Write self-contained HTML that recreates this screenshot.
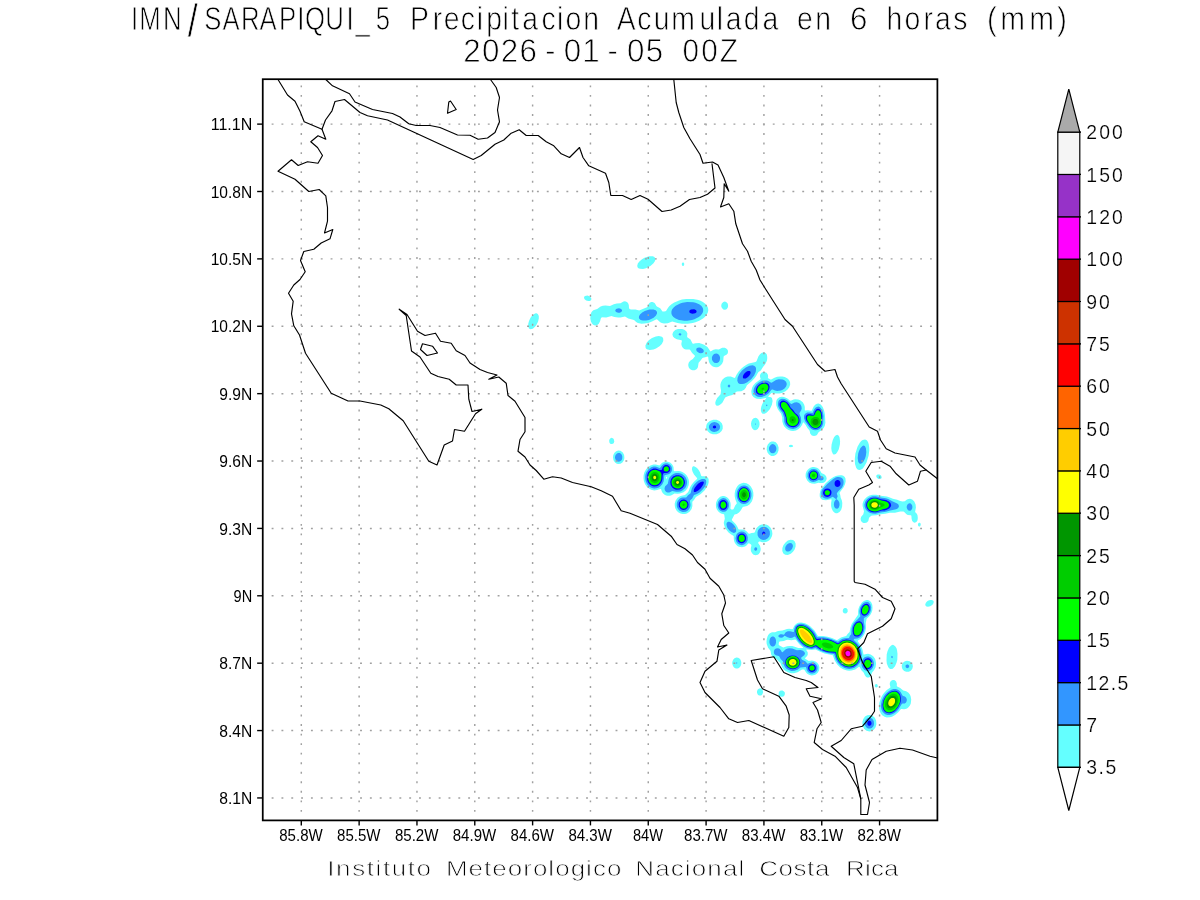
<!DOCTYPE html>
<html lang="es"><head><meta charset="utf-8"><title>IMN/SARAPIQUI_5 Precipitacion Acumulada en 6 horas (mm)</title>
<style>html,body{margin:0;padding:0;background:#fff}body{width:1200px;height:900px;overflow:hidden}svg{display:block}text{white-space:pre}</style></head>
<body>
<svg width="1200" height="900" viewBox="0 0 1200 900" font-family="'Liberation Sans', sans-serif" fill="#000">
<rect width="1200" height="900" fill="#fff"/>
<g id="precip" stroke="none" fill-rule="evenodd">
<path fill="#64ffff" d="M649.1,256.2 652.8,256.2 654.4,256.9 655.4,258.4 655.4,259.2 655.0,261.0 653.5,263.3 650.4,265.9 646.0,268.2 643.0,268.9 640.0,268.8 638.4,268.2 637.8,267.7 637.2,265.9 637.8,263.6 639.4,261.4 642.0,259.2 644.5,257.7ZM682.1,262.9 682.8,262.4 683.5,262.5 684.2,263.6 684.2,264.7 683.5,265.9 682.8,266.0 681.9,265.2 681.8,263.7ZM585.0,295.9 587.5,295.6 588.8,295.9 590.1,296.7 591.3,298.2 591.3,299.7 590.7,300.4 589.8,300.9 588.2,301.1 586.2,300.4 585.2,299.8 584.4,298.9 584.0,297.4 584.2,296.7ZM686.2,298.9 693.2,299.0 697.3,299.7 700.0,300.5 702.9,301.9 705.2,303.7 707.0,305.7 708.0,307.9 708.3,310.2 707.8,312.4 706.7,314.7 704.8,316.9 703.0,318.5 699.2,320.7 695.5,322.2 692.7,322.9 687.8,323.7 682.0,323.7 677.5,323.0 672.2,321.4 667.8,323.2 664.0,323.4 661.8,322.9 660.2,322.2 657.2,319.4 656.5,319.3 652.0,321.6 648.2,322.9 644.5,323.6 641.5,323.7 637.8,322.9 636.2,322.1 634.0,320.1 628.3,318.4 625.0,316.5 620.5,317.5 618.2,317.6 614.3,316.9 611.5,316.0 606.2,317.4 601.8,317.2 600.8,318.4 600.2,321.0 598.8,323.8 597.0,325.2 595.8,325.5 594.2,325.3 592.9,324.4 592.0,323.5 590.9,321.4 590.3,318.4 590.5,315.0 591.2,312.8 592.0,311.5 593.3,310.2 597.2,308.9 600.6,306.4 602.8,305.7 605.5,305.5 610.0,306.0 613.8,304.2 616.8,303.5 620.5,303.3 623.5,301.4 625.0,301.2 626.9,301.9 628.0,303.1 628.8,304.9 629.0,307.9 629.5,309.0 631.0,309.6 635.5,309.6 639.2,310.6 647.0,307.2 647.7,306.4 648.5,304.2 649.7,302.7 651.2,302.0 652.5,301.9 654.2,302.7 655.0,303.4 656.2,305.7 656.9,306.4 660.2,308.3 662.5,311.5 664.0,311.6 665.5,311.3 666.2,310.8 667.9,307.9 669.2,306.2 671.5,304.2 673.8,302.7 679.0,300.4 682.0,299.6ZM723.3,301.9 724.8,301.6 726.1,301.9 727.0,302.7 727.8,303.8 728.1,305.7 727.9,307.2 727.0,308.7 726.1,309.4 724.8,309.8 723.3,309.4 721.8,307.8 721.3,306.4 721.3,305.0 721.8,303.4ZM534.1,313.9 535.8,313.3 536.5,313.3 537.8,313.9 538.8,316.1 538.8,318.6 538.0,321.7 536.5,324.8 535.0,326.8 532.8,328.7 530.5,329.3 529.0,328.4 528.3,326.7 528.2,324.0 529.0,320.9 530.5,317.8 532.0,315.8ZM677.9,328.9 682.1,328.9 684.3,329.7 686.3,331.2 687.4,333.4 687.1,336.4 687.3,337.2 690.5,339.4 692.5,343.4 693.2,343.7 695.5,343.2 699.2,343.1 702.2,343.9 704.1,344.7 707.5,347.1 710.5,351.5 713.5,349.8 715.8,349.3 718.8,349.4 722.2,347.7 724.8,347.8 726.2,348.4 727.1,349.2 727.8,350.2 728.0,351.4 727.8,353.2 726.8,354.4 724.0,356.1 723.6,356.7 723.2,361.2 722.2,363.4 721.0,365.1 718.8,366.7 717.2,367.2 715.8,367.3 714.2,367.1 712.8,366.5 710.9,364.9 709.8,363.5 709.0,361.9 708.5,359.7 708.2,357.1 707.5,356.5 705.2,357.3 703.0,357.7 702.2,358.2 700.8,360.3 698.6,362.7 697.9,367.2 697.0,368.7 696.1,369.4 694.5,370.2 692.5,370.3 691.0,369.8 689.7,368.7 688.8,367.4 688.3,365.7 688.3,364.2 688.8,362.6 690.2,360.8 692.8,358.9 694.6,356.7 695.0,355.9 694.5,355.2 692.1,353.0 690.2,350.0 689.5,349.4 685.8,349.6 684.2,349.1 682.8,347.8 682.0,346.6 681.4,344.7 681.4,343.2 681.9,341.0 681.6,340.2 676.8,339.3 674.5,338.1 673.0,336.4 672.4,334.2 673.2,331.9 675.2,330.0ZM655.8,336.4 658.8,336.1 661.0,336.4 661.8,336.8 662.5,337.3 663.2,338.4 663.3,340.9 661.8,344.0 659.5,346.2 656.0,348.4 653.5,349.4 649.8,349.9 646.9,349.2 646.0,348.4 645.6,347.7 645.4,345.4 646.8,342.4 648.8,340.2 652.0,337.9ZM761.5,352.9 763.0,352.4 764.5,352.4 765.6,352.9 766.3,353.7 766.8,354.5 767.2,356.7 767.2,358.9 766.8,360.9 765.2,364.2 763.0,366.9 760.8,370.5 758.5,372.1 757.8,373.0 756.0,376.2 754.3,378.4 751.4,381.4 746.9,385.2 745.8,387.8 744.2,389.7 741.3,391.2 736.8,391.6 732.3,394.9 728.5,396.0 725.5,397.3 724.9,397.9 722.5,402.4 721.0,404.0 718.8,405.4 717.2,405.7 716.3,405.4 715.8,404.9 715.4,403.9 715.3,402.4 715.8,400.7 717.2,397.9 720.6,394.2 721.0,390.4 720.4,386.7 720.4,384.4 721.0,382.2 722.5,379.6 724.6,377.7 726.0,376.9 727.8,376.4 730.8,376.6 734.5,378.1 735.2,377.4 736.5,374.7 738.5,371.7 741.2,368.7 743.5,366.7 746.5,364.7 748.8,363.6 755.5,361.9 756.5,361.2 758.5,356.2 760.0,354.2ZM761.9,372.4 763.0,372.0 764.5,371.9 766.0,372.4 766.8,373.0 767.9,374.7 768.1,376.2 767.9,377.7 768.2,378.3 770.5,379.4 771.2,379.4 774.5,377.7 777.2,376.8 780.2,376.4 782.5,376.5 784.8,377.0 787.5,378.4 789.0,379.9 790.0,382.1 790.2,384.4 789.2,387.2 787.8,389.3 785.5,391.2 782.5,392.7 779.5,393.5 775.8,393.5 772.0,392.8 771.2,393.2 768.1,396.5 768.2,396.7 771.1,397.2 772.0,398.2 772.6,400.9 771.9,404.7 769.8,409.2 767.5,411.8 766.0,413.0 764.5,413.7 763.0,413.7 762.2,413.4 761.5,412.5 760.9,410.7 760.9,408.4 761.5,405.9 763.0,402.4 766.4,397.9 765.2,397.9 760.8,399.0 757.0,398.8 755.5,398.2 753.8,397.2 752.4,395.7 751.7,394.2 751.3,391.2 752.2,387.4 753.4,385.2 755.4,382.9 760.5,379.2 760.6,378.4 760.0,376.9 760.0,375.1 760.8,373.5ZM779.4,397.2 781.8,396.7 784.0,397.0 787.0,398.3 790.0,400.6 790.8,400.7 793.7,399.4 795.2,399.2 798.2,399.4 800.2,400.2 802.8,402.3 804.2,404.7 804.8,406.9 804.8,409.9 805.0,410.4 808.0,410.3 811.0,410.8 811.8,410.4 813.8,406.2 815.5,404.4 817.0,403.7 818.5,403.6 820.8,404.6 822.7,406.9 824.2,410.7 824.9,414.4 825.4,422.7 824.8,425.7 823.6,427.9 821.6,430.2 819.2,431.7 818.4,432.4 817.1,434.7 816.2,435.5 814.0,436.1 811.8,435.4 810.2,433.6 809.7,430.9 809.3,430.2 807.4,427.9 805.7,424.9 803.5,422.2 802.8,423.1 802.0,424.9 800.5,427.3 798.2,429.2 796.0,430.4 793.0,430.9 790.8,430.7 788.5,430.0 786.2,428.6 784.3,426.4 783.1,424.2 782.3,421.2 782.3,417.4 781.1,413.7 777.8,409.2 776.3,405.4 776.1,402.5 776.5,400.2 777.4,398.7ZM753.7,418.2 755.5,417.8 757.0,418.2 758.5,419.8 759.4,421.9 759.6,424.2 759.2,426.5 757.8,429.1 756.2,430.1 754.8,430.2 753.2,429.5 752.0,427.9 751.2,425.7 751.0,423.4 751.5,421.2 752.5,419.3ZM713.2,419.7 716.5,419.8 719.5,421.1 721.8,423.3 722.7,425.7 722.7,428.7 721.6,430.9 719.5,432.9 716.5,434.2 712.8,434.2 709.9,433.2 707.5,431.1 706.4,428.7 706.1,427.2 706.3,425.7 706.7,424.2 707.5,423.0 709.8,420.9ZM835.6,435.4 837.2,434.8 838.8,435.7 839.5,437.2 840.1,441.4 839.9,444.4 838.8,449.2 837.2,452.3 835.8,454.0 834.2,454.6 833.5,454.4 832.8,453.8 831.7,451.2 831.3,448.2 831.6,444.4 832.8,439.9 834.2,436.9ZM610.2,438.4 611.5,437.8 612.2,437.9 613.2,438.4 613.8,439.2 614.3,441.4 613.8,442.9 613.0,443.7 611.5,444.1 610.8,443.9 610.0,443.4 609.3,442.2 609.2,439.9ZM862.7,439.9 865.0,439.4 866.4,439.9 867.2,440.8 868.1,442.2 868.8,444.4 869.2,447.4 869.3,450.5 868.6,455.7 866.5,462.4 864.2,466.6 862.8,468.4 861.2,469.5 859.8,470.0 858.2,469.8 857.3,469.2 856.2,467.7 855.0,463.9 854.8,458.7 855.4,453.5 857.5,446.8 859.8,442.8 861.2,441.1ZM771.5,441.5 773.5,441.4 775.8,442.3 777.6,444.4 778.6,447.4 778.5,450.4 777.3,453.4 775.8,455.1 773.5,456.0 771.2,455.9 769.0,454.5 767.5,452.4 766.7,449.7 766.9,446.7 767.8,444.4 769.8,442.2ZM789.3,445.2 790.8,444.8 792.2,445.0 793.2,445.9 792.8,446.7 790.8,447.2 789.2,446.7 788.8,445.9ZM616.2,451.2 618.2,450.5 620.5,450.8 622.8,452.5 624.1,455.0 624.4,458.0 623.9,460.2 622.4,462.4 620.5,463.8 618.2,464.1 616.8,463.7 615.0,462.4 613.5,460.2 613.0,457.2 613.3,454.9 614.5,452.7ZM664.9,461.7 667.0,461.6 668.5,461.9 670.0,462.5 671.8,464.0 672.8,465.4 673.5,466.9 673.8,471.1 674.5,471.3 678.2,471.0 680.5,471.3 682.8,472.2 685.0,473.7 686.5,475.2 687.9,477.4 688.7,479.7 689.0,481.9 688.7,484.9 687.6,487.9 686.0,490.2 683.5,492.2 679.8,493.6 677.5,493.8 674.5,493.6 671.5,495.2 670.0,495.7 667.8,495.8 666.1,495.4 664.6,494.7 662.9,493.2 661.9,491.7 661.0,489.1 660.2,488.9 657.2,490.1 654.2,490.4 651.2,489.8 648.2,488.1 646.6,486.4 645.1,484.2 643.9,481.2 643.5,478.2 643.6,475.2 644.4,472.2 646.1,469.2 648.2,466.9 650.5,465.5 653.5,464.6 655.8,464.6 659.5,465.4 661.8,463.1 663.2,462.2ZM667.0,476.7 666.2,476.9 666.1,477.4 666.2,479.3 667.2,477.4ZM692.3,466.9 693.2,466.3 694.0,466.3 695.5,466.9 697.0,468.1 698.5,469.8 700.0,472.2 701.3,475.9 702.2,476.3 705.2,476.2 707.5,477.2 708.6,478.9 708.7,481.9 708.2,484.2 707.2,486.4 704.7,490.2 700.8,494.0 695.9,496.9 694.0,499.9 692.5,501.4 692.3,502.2 692.4,505.9 691.6,508.9 689.5,511.8 686.9,513.5 685.0,514.0 682.8,514.1 680.5,513.5 678.2,512.2 676.5,510.4 675.3,508.2 674.8,506.0 674.7,503.7 675.5,500.7 677.6,497.7 680.5,495.9 685.0,495.1 688.0,492.2 688.7,490.9 690.1,487.2 691.4,485.0 693.8,482.0 697.0,478.9 697.2,478.2 694.0,474.5 692.5,471.6 691.9,469.2ZM810.3,467.7 812.5,467.0 814.0,467.0 817.0,467.8 818.5,468.7 819.7,469.9 821.5,473.0 824.5,474.4 826.0,475.9 826.7,478.2 826.4,479.7 825.6,481.2 824.5,482.2 823.0,482.9 821.5,483.1 820.0,483.0 818.5,482.7 814.8,483.7 811.8,483.6 809.5,482.7 807.2,480.4 805.8,477.5 805.6,475.9 805.7,473.7 806.5,471.4 807.5,469.9 808.8,468.7ZM877.5,474.4 879.4,474.4 880.7,475.2 881.3,476.0 881.7,477.4 881.5,478.2 880.8,478.8 878.6,478.9 877.0,477.9 876.3,476.7 876.3,475.9 876.5,475.2ZM835.8,475.9 838.0,475.4 840.2,475.2 841.8,475.3 843.2,475.8 844.5,476.7 845.4,478.2 845.7,481.2 845.0,484.2 843.6,487.2 839.7,492.4 839.6,493.2 840.2,494.7 840.7,497.7 841.8,500.2 842.3,502.9 842.1,506.7 841.2,509.7 839.5,512.1 837.2,513.3 835.8,513.2 834.7,512.7 833.5,511.8 832.6,510.5 831.6,508.2 831.1,505.9 831.1,502.9 831.6,500.0 831.3,499.2 826.0,500.2 823.8,500.1 822.2,499.7 820.8,498.5 820.2,497.7 819.7,496.2 819.7,493.9 820.3,491.0 820.9,489.4 825.4,483.4 829.8,479.6 833.5,477.0ZM741.0,483.4 743.5,482.8 746.5,483.2 748.8,484.4 750.8,486.5 752.5,489.4 753.3,492.4 753.4,495.4 752.9,498.4 751.8,501.4 749.5,504.4 747.1,505.9 743.5,506.7 742.8,507.1 740.5,510.8 739.0,512.5 736.8,514.0 734.5,514.5 731.9,519.5 731.9,520.2 735.6,524.0 737.1,526.2 738.5,529.2 739.0,529.6 742.0,529.4 744.2,529.8 746.5,531.2 748.8,533.7 749.5,533.8 751.5,533.0 754.0,532.7 754.8,532.2 756.2,528.6 757.8,526.7 760.0,525.1 763.0,524.2 766.0,524.5 768.3,525.5 770.6,527.7 772.0,530.7 772.4,533.7 772.0,536.0 770.5,539.0 769.0,540.5 766.8,541.8 764.5,542.3 762.2,542.3 760.0,541.6 759.2,541.6 758.5,542.0 758.2,542.7 758.4,543.5 760.0,545.8 760.7,548.7 760.6,550.2 760.0,552.2 758.8,554.0 757.8,554.7 755.5,555.3 753.6,554.7 752.5,553.8 751.2,551.7 750.8,550.2 750.8,548.0 751.4,545.7 751.3,545.0 751.0,544.4 749.5,543.5 748.8,543.3 748.0,543.8 746.5,545.4 745.0,546.4 742.0,547.2 739.0,546.7 737.5,545.9 736.0,544.5 734.8,542.7 734.2,541.2 733.8,539.0 733.7,536.0 730.8,534.2 728.3,532.2 726.0,529.2 724.5,526.2 723.9,524.0 723.8,522.5 724.8,518.7 724.3,515.0 724.0,514.2 721.0,513.5 718.8,512.1 717.0,509.7 716.1,507.5 715.9,505.2 716.0,502.9 716.8,500.7 717.6,499.2 718.8,497.9 720.2,496.8 722.5,496.1 724.0,496.1 725.5,496.5 727.0,497.2 729.0,499.2 729.8,500.7 730.5,502.9 730.7,505.2 730.4,508.2 730.7,508.9 731.5,509.5 733.0,509.6 733.6,508.9 735.2,505.5 736.6,503.7 736.8,502.9 735.3,499.2 734.7,496.2 734.7,493.2 735.3,490.2 736.3,488.0 737.5,486.1 739.0,484.6ZM872.5,494.7 876.2,494.7 880.8,495.8 886.8,496.5 889.8,497.4 892.8,498.8 897.2,499.8 900.2,500.9 902.5,501.4 904.8,501.2 907.0,499.4 908.5,498.9 910.0,498.7 912.2,499.5 914.3,501.4 915.6,504.5 915.9,507.4 915.1,511.9 916.8,513.8 917.5,515.3 917.8,518.0 917.5,520.2 916.8,521.6 916.0,522.3 914.5,522.8 913.8,522.6 912.2,520.9 911.6,518.7 911.4,515.7 910.8,515.3 907.8,515.0 906.5,514.2 904.0,511.8 903.2,511.5 900.2,511.6 895.0,512.7 889.8,512.8 885.2,513.7 880.8,514.2 876.2,515.3 872.5,515.4 871.3,515.7 869.5,517.2 869.0,518.0 868.3,521.0 866.9,522.5 865.0,523.1 863.5,522.9 862.5,522.5 861.2,521.2 860.8,520.2 860.6,518.7 861.2,516.8 863.3,514.2 864.0,511.2 862.6,505.9 862.6,503.7 863.3,501.4 864.6,499.2 866.9,496.9 869.5,495.5ZM918.3,523.2 919.0,522.7 919.8,522.7 920.5,523.3 920.8,524.7 920.2,526.2 919.8,526.6 919.0,526.6 918.3,525.9 917.9,524.7ZM790.5,539.7 793.0,540.0 794.6,541.2 795.6,543.5 795.6,546.5 794.6,549.5 793.0,551.7 790.8,553.7 787.8,554.9 785.3,554.7 784.0,554.0 783.2,553.2 782.3,551.0 782.4,548.0 783.5,545.0 785.5,542.4 787.8,540.6ZM865.0,600.5 866.5,600.0 868.0,600.1 869.5,600.7 871.0,602.1 872.1,604.2 872.4,605.7 872.5,608.0 872.3,610.2 871.6,612.5 870.4,614.7 868.8,616.8 866.9,618.5 866.5,619.2 865.8,623.0 866.0,628.2 865.4,631.2 864.6,633.5 863.4,635.7 862.0,637.6 860.5,639.0 858.3,640.2 857.6,641.0 860.3,644.7 861.5,647.0 862.6,650.0 863.5,654.5 864.2,654.6 866.5,653.9 868.0,653.8 870.6,654.5 873.2,656.3 874.7,658.2 875.4,659.7 876.1,663.5 875.6,667.2 874.0,670.2 872.1,672.5 871.0,675.6 869.8,677.0 868.8,677.5 867.2,677.5 866.2,677.0 865.0,675.6 863.6,672.5 861.4,670.2 859.8,667.2 859.0,666.8 855.2,669.4 851.5,670.5 849.2,670.7 847.0,670.5 843.2,669.2 840.2,667.4 837.0,664.2 834.7,660.5 832.8,655.2 824.5,653.4 820.8,652.0 815.5,649.4 811.8,650.1 806.5,649.5 806.3,650.0 807.7,652.2 807.8,654.5 807.1,656.0 804.9,658.2 805.6,659.0 808.8,661.0 811.8,660.6 813.2,660.7 815.5,661.4 817.2,662.7 818.8,665.0 819.4,667.2 819.1,670.2 817.9,672.5 816.4,674.0 815.2,674.7 813.2,675.3 811.8,675.4 809.5,675.0 807.2,673.7 806.1,672.5 804.2,669.5 802.0,669.6 797.5,672.3 793.8,673.2 791.5,673.2 789.2,672.7 785.5,671.0 783.7,669.5 782.5,667.9 780.3,662.7 778.5,661.2 776.5,659.0 774.2,658.0 772.8,656.9 771.2,654.8 770.5,650.7 768.1,647.7 766.7,644.0 766.5,641.7 766.8,638.9 767.5,636.5 768.2,635.0 769.8,633.3 772.0,632.2 775.0,632.3 778.0,631.1 782.5,630.6 787.0,628.9 789.2,628.8 792.2,629.2 793.0,628.8 794.1,626.0 796.0,623.9 798.2,622.8 801.2,622.5 805.0,623.3 808.0,624.7 810.2,626.2 814.5,630.5 817.8,635.7 818.5,636.0 823.0,636.1 827.5,636.8 832.0,638.1 836.5,640.0 837.2,639.9 841.0,637.5 846.2,636.1 847.8,633.8 849.6,632.0 850.4,627.5 851.8,623.7 858.1,614.7 858.1,611.0 858.5,608.7 859.3,606.5 861.7,602.7 863.5,601.2ZM786.2,640.0 783.9,641.0 779.5,641.4 778.9,642.5 778.7,644.0 778.7,644.7 779.5,645.4 783.2,647.4 787.0,646.2 789.2,645.9 792.2,646.0 795.5,647.0 798.2,647.9 802.8,648.0 803.3,647.7 799.1,644.0 796.0,640.1 795.2,639.6 791.5,640.2 787.8,639.8ZM928.5,600.5 930.2,599.9 931.8,599.9 933.0,600.5 933.6,601.2 933.8,602.0 933.2,603.7 932.2,605.0 930.2,606.2 928.0,606.7 926.5,606.5 925.8,605.9 925.3,605.0 925.3,604.2 925.9,602.7 927.2,601.2ZM844.6,608.0 846.2,608.0 847.6,609.5 847.7,611.7 846.5,613.2 845.5,613.5 844.0,613.2 843.2,612.5 842.9,611.7 842.7,611.0 843.0,609.5 843.5,608.7ZM891.1,645.5 892.8,644.8 893.5,644.9 895.2,646.2 896.5,648.3 897.0,650.0 897.5,653.7 897.3,659.7 896.5,662.8 895.0,666.2 892.8,668.7 891.2,669.1 890.5,669.0 889.7,668.7 888.3,667.2 886.8,663.5 886.5,660.5 886.7,654.5 887.5,651.2 889.0,647.8ZM736.4,657.5 738.2,657.7 739.8,658.8 740.5,659.7 741.3,662.0 741.2,664.4 740.5,666.3 739.0,667.9 737.5,668.5 736.0,668.5 734.7,668.0 733.8,667.2 733.0,666.1 732.2,663.8 732.3,662.0 733.1,659.7 734.5,658.2ZM905.0,661.2 907.0,660.7 909.6,661.2 911.5,662.6 912.5,664.2 912.9,666.4 912.3,668.7 910.8,670.7 908.8,671.7 906.2,671.8 904.2,671.0 902.7,669.5 902.0,668.0 901.7,665.7 902.1,664.2 903.2,662.5ZM892.7,680.0 894.2,680.0 895.4,680.7 896.1,681.5 896.9,683.7 896.8,686.0 897.2,686.5 900.2,688.0 903.2,690.5 906.2,691.2 908.5,692.7 910.0,694.8 910.7,696.5 911.2,699.5 910.8,703.5 909.9,705.5 908.5,707.2 907.0,708.4 905.5,709.1 904.0,709.3 901.8,708.9 901.0,709.1 898.0,712.6 895.0,715.1 892.0,716.7 889.8,717.3 886.8,717.4 884.5,716.8 882.2,715.3 880.8,713.4 879.6,710.7 879.0,707.7 879.1,704.7 879.4,702.5 881.3,697.2 883.0,694.3 884.9,692.0 886.8,690.1 890.4,687.5 890.4,686.7 889.8,684.8 889.8,683.0 890.5,681.5 891.2,680.7ZM875.2,684.5 876.2,683.9 877.4,684.5 877.8,686.0 877.6,686.7 877.0,687.3 875.9,687.5 875.0,686.7 874.8,685.2ZM758.3,689.0 760.0,688.2 761.5,688.8 762.4,689.7 763.0,691.2 763.0,692.8 762.2,694.5 761.5,695.2 760.8,695.6 759.2,695.6 758.1,695.0 757.6,694.2 757.0,692.8 757.0,691.2 757.6,689.7ZM781.7,690.5 782.5,690.6 784.0,691.4 784.8,692.6 784.9,693.5 784.7,694.8 784.2,695.7 783.4,696.5 782.5,696.8 781.0,696.8 780.0,696.5 779.2,695.7 778.6,694.2 778.8,692.4 779.5,691.3 780.2,690.8ZM867.3,715.2 870.2,714.9 872.5,715.7 874.8,717.7 876.1,720.5 876.4,724.2 875.6,727.2 874.0,729.6 871.8,731.1 869.5,731.6 866.5,730.8 864.1,728.7 862.6,725.7 862.4,722.0 863.3,719.0 865.0,716.6Z"/>
<path fill="#3296ff" d="M687.2,301.9 693.2,302.2 695.5,302.7 699.1,304.2 701.2,305.7 702.2,307.0 703.0,308.5 703.2,310.2 703.0,311.9 702.2,313.5 700.7,315.4 698.8,316.9 694.4,319.2 691.9,319.9 687.2,320.7 684.2,320.7 681.2,320.3 679.0,319.9 675.6,318.4 673.4,316.9 672.2,315.6 671.5,314.1 671.4,312.4 671.5,311.0 672.2,309.2 673.9,307.2 675.7,305.7 680.1,303.4 682.5,302.7ZM616.6,308.7 619.0,308.2 621.2,309.0 622.1,310.2 622.0,310.9 621.2,312.0 619.8,312.7 618.2,312.8 616.0,311.9 615.4,310.9 615.3,310.2 615.7,309.4ZM649.4,309.5 653.5,309.4 655.7,310.2 656.9,311.7 657.1,313.2 656.0,315.4 653.6,317.7 649.0,319.9 646.0,320.6 643.0,320.6 640.6,319.9 639.1,318.4 638.9,317.7 639.0,316.2 640.0,314.5 642.2,312.4 644.8,310.9ZM679.1,333.4 679.8,333.2 680.9,333.4 681.4,334.2 681.1,334.9 680.5,335.4 679.8,335.5 679.0,335.1 678.5,334.2ZM697.6,347.7 699.2,347.4 700.8,347.7 703.0,349.2 703.6,350.0 703.8,351.4 703.4,352.2 702.3,352.9 700.8,353.2 699.2,352.9 697.0,351.4 696.5,350.7 696.2,349.2 696.5,348.4ZM714.7,353.7 716.5,353.5 718.0,354.1 719.2,355.2 719.9,356.7 720.1,358.2 719.7,360.4 718.8,361.9 717.2,362.9 715.8,363.1 714.2,362.7 712.8,361.3 712.0,359.7 711.9,357.4 712.4,355.9 713.5,354.4ZM749.4,365.7 752.5,365.3 754.0,365.7 755.1,366.4 755.7,367.2 756.1,368.7 755.8,371.7 754.1,375.4 751.1,379.2 747.3,382.2 744.1,383.7 742.0,384.1 740.5,384.1 739.2,383.7 738.2,383.0 737.3,380.7 737.6,377.7 739.3,373.9 742.0,370.5 745.8,367.4ZM778.6,379.2 782.5,379.4 784.0,379.9 785.8,381.4 786.6,382.9 786.7,384.4 786.2,386.2 784.8,388.2 782.7,389.7 780.9,390.4 778.8,390.8 777.2,390.9 775.0,390.5 772.8,389.5 772.0,389.4 771.2,389.9 769.0,392.9 766.8,394.8 764.5,396.1 761.5,396.9 759.2,397.0 757.0,396.4 755.0,394.9 754.0,393.4 753.5,391.2 753.8,388.9 754.8,386.7 756.4,384.5 758.5,382.7 762.2,380.8 764.5,380.4 766.8,380.5 768.2,381.0 771.2,382.7 772.0,382.6 776.0,379.9ZM728.0,385.2 728.5,384.7 729.2,384.6 730.0,385.2 730.3,385.9 730.0,386.7 729.3,387.4 728.5,387.3 727.9,386.7 727.7,385.9ZM779.9,399.4 781.8,398.8 784.8,399.1 787.0,400.3 790.8,403.7 791.5,403.9 794.5,402.4 796.8,402.3 799.0,403.1 800.5,404.5 801.4,406.2 801.7,408.4 801.2,410.3 799.5,412.9 799.4,413.7 800.9,417.4 801.2,420.4 800.9,422.7 799.3,425.7 798.2,426.8 796.0,428.3 793.0,429.0 791.5,428.8 789.2,428.2 787.8,427.3 786.1,425.7 785.1,424.2 784.3,421.9 784.1,417.4 782.6,412.9 779.6,409.2 778.2,406.2 777.9,403.9 778.2,401.7 779.0,400.2ZM766.4,404.7 766.8,404.4 767.2,404.7 767.4,405.4 766.8,406.2 766.0,405.4ZM816.7,406.9 818.5,406.6 820.0,407.3 821.6,409.2 822.7,411.4 823.5,415.9 823.2,423.4 822.1,426.4 820.8,428.1 819.3,429.2 817.8,429.9 815.5,430.2 813.2,429.9 811.8,429.3 809.4,427.2 805.1,421.2 804.0,418.2 804.0,415.9 804.6,414.4 805.2,413.7 807.2,412.5 809.5,412.5 812.5,413.0 814.3,409.2 815.5,407.7ZM711.7,422.7 714.3,422.0 716.5,422.4 718.4,423.4 719.6,424.9 720.1,426.5 719.8,428.7 718.8,430.2 716.5,431.6 714.2,432.0 712.8,431.7 711.1,431.0 709.6,429.4 708.9,427.2 709.1,425.7 709.9,424.2ZM755.3,423.4 755.5,423.3 755.6,423.4 755.9,424.2 755.5,424.7 754.9,424.2ZM771.2,444.4 772.8,444.1 774.1,444.4 775.1,445.2 776.0,446.7 776.4,448.2 776.3,449.7 775.8,451.3 774.2,452.9 772.8,453.3 771.2,452.9 770.1,452.0 769.3,450.5 769.0,448.9 769.1,447.5 769.8,445.9ZM862.5,445.9 863.5,445.6 864.2,445.8 865.0,446.3 865.9,448.2 866.3,451.9 865.8,455.9 865.0,458.4 863.5,461.5 861.9,463.2 860.5,463.8 859.8,463.7 859.0,463.1 858.2,461.7 857.7,457.9 858.2,453.4 859.0,451.0 860.5,448.0ZM617.0,453.5 618.2,452.9 619.8,453.1 621.2,454.1 621.8,455.0 622.3,456.4 622.2,458.7 621.5,460.2 620.5,461.1 619.0,461.7 617.5,461.4 616.7,460.9 615.5,459.4 615.0,457.9 615.1,456.4 615.6,454.9ZM663.6,463.9 664.8,463.5 667.0,463.3 668.5,463.7 670.1,464.7 671.3,466.2 671.9,467.7 672.0,469.9 671.5,471.4 670.5,472.9 669.2,473.9 664.6,475.2 664.3,475.9 663.7,481.2 662.3,484.2 660.2,486.4 658.8,487.4 656.5,488.3 654.2,488.5 652.0,488.0 649.8,486.9 648.2,485.6 647.1,484.2 645.7,481.2 645.3,478.9 645.2,476.7 645.5,474.4 646.3,472.2 648.5,469.2 651.2,467.3 653.5,466.6 655.0,466.5 656.5,466.7 659.5,467.9 660.2,467.8 661.8,465.4ZM811.7,469.2 814.0,468.9 816.2,469.5 817.0,470.0 819.0,472.2 820.1,475.2 820.8,475.9 823.0,476.7 823.5,477.5 823.6,478.9 823.1,479.7 822.2,480.3 820.8,480.5 819.2,479.9 818.5,479.9 815.5,481.6 813.2,481.9 811.8,481.7 810.2,480.9 808.4,478.9 807.5,476.7 807.6,473.7 808.2,472.2 809.3,470.7 811.0,469.4ZM673.9,473.7 676.0,473.1 678.3,473.0 679.8,473.2 682.0,474.0 684.2,475.7 685.7,477.4 686.4,479.0 687.0,481.2 687.0,483.5 686.4,485.7 685.3,487.9 684.2,489.1 682.0,490.8 680.5,491.4 678.2,491.8 676.1,491.7 672.2,491.1 669.4,492.4 667.6,492.5 666.2,491.9 665.3,490.9 664.8,490.1 664.5,488.7 665.0,486.4 667.8,483.7 668.6,479.7 669.5,477.4 671.5,475.2ZM835.6,477.5 837.2,477.0 838.8,477.0 841.0,477.4 842.2,478.2 843.2,479.7 843.4,480.4 843.6,482.0 843.4,484.2 842.5,486.4 841.8,487.8 837.9,491.7 836.9,493.2 836.9,493.9 837.7,496.2 836.5,499.2 835.8,499.1 832.8,496.7 831.2,497.4 829.8,498.2 827.5,498.7 825.2,498.6 823.8,498.0 822.5,497.0 821.6,495.5 821.3,493.9 821.4,491.7 821.9,490.2 822.8,488.7 827.5,483.8 833.2,478.9ZM701.9,478.9 704.5,478.9 705.7,479.7 706.1,480.4 706.3,482.0 705.9,484.2 704.5,487.2 702.2,490.1 699.6,492.4 697.0,493.9 694.0,495.1 692.2,498.5 690.2,500.2 689.9,500.7 690.5,504.5 690.4,505.9 690.0,507.4 688.6,509.7 687.2,510.9 685.8,511.7 682.8,511.9 681.2,511.6 679.3,510.5 678.0,508.9 677.2,507.4 676.8,505.9 676.8,503.7 677.1,502.2 677.8,500.7 679.8,498.6 681.2,497.8 682.8,497.4 685.8,497.5 686.5,497.3 688.0,495.3 690.6,493.2 691.8,488.5 692.8,486.5 694.4,484.2 696.6,481.9 698.5,480.5ZM742.2,485.7 743.5,485.4 745.0,485.5 746.5,485.9 748.0,486.8 750.1,489.4 750.8,490.9 751.4,493.2 751.4,496.2 750.8,498.4 750.1,499.9 748.0,502.6 745.8,503.7 743.5,504.0 741.2,503.4 740.5,502.9 738.3,500.7 736.9,497.7 736.6,495.4 736.7,493.2 736.9,491.7 737.8,489.4 739.8,487.1 741.2,486.0ZM870.5,497.0 872.5,496.3 875.5,496.2 877.0,496.4 880.8,497.6 886.0,498.2 888.2,498.9 892.8,501.4 897.2,503.4 898.4,504.5 898.9,506.0 898.8,507.0 897.9,508.2 896.8,509.0 895.0,509.6 890.3,510.5 886.0,511.8 880.8,512.5 875.5,513.8 872.5,513.6 870.2,513.1 868.8,512.3 866.6,510.4 865.5,508.9 864.6,506.7 864.4,504.4 865.3,501.4 866.3,500.0 868.0,498.3ZM721.7,498.4 723.2,498.1 725.5,498.6 727.8,500.7 728.8,503.0 729.0,505.9 728.4,508.2 727.0,510.3 725.5,511.4 724.0,511.8 722.5,511.8 720.2,510.8 718.6,508.9 717.7,506.7 717.5,504.4 718.3,501.5 719.5,499.9ZM835.5,500.0 835.8,499.4 836.5,499.2 837.2,499.6 838.4,500.7 839.2,502.2 839.5,503.7 839.5,505.2 838.8,507.4 838.1,508.2 837.2,508.7 835.8,508.5 835.0,507.9 834.2,506.6 833.9,504.4 834.0,502.9 834.5,501.4ZM908.3,503.7 909.2,503.3 910.8,503.6 912.1,505.2 912.4,506.7 912.3,508.2 911.5,509.7 910.8,510.4 910.0,510.7 908.5,510.4 907.7,509.7 907.0,508.5 906.7,507.4 906.8,505.9 907.5,504.4ZM728.3,521.7 729.2,521.7 731.5,522.7 733.0,523.9 734.5,525.7 735.3,527.0 736.1,529.2 736.1,531.5 735.2,532.6 733.8,532.9 731.5,532.1 729.7,530.7 727.8,528.5 727.0,526.9 726.4,524.0 727.0,522.4ZM761.9,527.0 764.5,526.7 766.8,527.5 768.7,529.2 769.8,531.5 769.9,534.5 769.1,536.7 767.5,538.6 765.3,539.7 763.0,539.9 760.8,539.2 758.7,537.5 757.6,535.2 757.5,532.2 758.2,530.0 760.0,527.9ZM738.9,532.2 741.2,531.5 743.5,531.7 745.7,533.1 747.2,535.2 747.8,537.5 747.6,540.5 746.4,542.7 744.2,544.6 742.0,545.2 739.8,544.8 737.6,543.5 736.1,541.2 735.5,538.2 736.2,535.2 736.9,533.7ZM788.4,543.5 790.0,543.0 791.5,543.3 792.2,543.9 792.8,545.0 792.9,546.5 792.2,548.4 791.5,549.5 790.0,551.0 788.5,551.6 787.0,551.6 786.0,551.0 785.2,549.5 785.2,548.0 785.6,546.5 787.0,544.5ZM754.5,548.0 755.5,547.2 756.2,547.3 756.9,548.0 757.2,548.7 757.0,549.8 756.2,550.7 755.5,550.8 754.8,550.4 754.2,549.5ZM866.3,602.0 868.0,602.1 868.8,602.4 870.3,604.2 871.2,607.2 870.9,610.2 870.1,612.5 868.8,614.7 867.2,616.2 864.4,617.7 863.8,618.5 863.8,621.5 864.6,626.0 864.6,628.2 864.0,631.2 862.7,634.2 861.2,636.2 859.8,637.5 857.5,638.5 854.5,638.7 853.7,639.5 854.1,640.2 857.3,643.2 859.4,646.2 861.0,650.0 861.8,654.5 861.4,659.0 860.3,662.0 857.5,665.6 854.5,667.7 852.2,668.6 849.2,668.9 846.2,668.5 844.0,667.8 840.2,665.3 837.9,662.7 836.0,659.7 834.2,654.3 833.5,653.9 828.2,653.3 823.0,651.8 820.0,650.5 815.5,648.0 811.8,649.0 809.5,648.8 807.2,648.2 804.2,646.7 802.0,645.0 798.2,641.2 795.2,636.8 794.5,636.6 792.2,637.7 790.0,637.9 787.5,637.2 784.8,635.8 784.0,635.9 783.8,636.5 782.5,637.5 781.0,637.8 779.0,637.2 778.4,636.5 778.4,635.7 778.9,635.0 780.3,634.2 781.8,634.2 784.0,634.8 785.5,632.5 786.2,631.9 787.8,631.3 790.0,631.2 793.0,632.0 793.8,631.9 794.5,628.2 795.5,626.0 797.5,624.4 799.8,623.7 802.0,623.8 804.2,624.3 807.2,625.6 809.5,627.2 813.6,631.2 815.2,633.5 817.0,636.9 817.8,637.3 823.0,637.2 826.8,637.7 831.2,638.9 837.2,641.6 838.0,641.7 840.2,640.0 842.5,638.8 844.8,638.2 848.8,638.0 849.2,637.6 849.9,635.7 851.2,634.2 851.6,628.2 852.6,625.2 853.4,623.7 854.5,622.2 857.7,619.2 860.4,616.2 859.6,613.2 859.4,611.0 860.0,608.0 860.7,606.5 862.0,604.5 863.5,603.0 865.0,602.2ZM772.2,636.5 773.5,636.5 774.6,637.2 775.6,638.7 776.0,640.2 776.0,642.5 775.7,644.0 774.9,645.5 773.5,646.5 772.0,646.5 770.6,645.5 769.8,644.0 769.4,642.5 769.4,641.0 769.9,638.7 770.9,637.2ZM776.0,648.5 778.0,648.3 779.5,648.8 780.7,650.0 781.8,651.9 782.5,652.2 785.8,649.2 787.7,648.5 789.2,648.3 792.3,648.5 796.8,650.2 800.5,650.0 803.0,650.7 804.6,652.2 805.0,653.7 804.2,655.3 801.3,657.5 801.2,658.5 802.0,659.8 805.2,661.2 806.1,662.0 807.2,663.5 808.0,663.7 809.5,662.9 811.8,662.4 813.2,662.6 814.8,663.1 816.7,665.0 817.4,666.5 817.6,668.7 817.1,670.2 816.2,671.7 814.8,672.9 812.5,673.6 811.0,673.5 809.5,673.0 808.0,671.9 806.8,670.2 806.3,668.0 805.8,666.9 800.5,667.6 797.5,669.7 794.5,670.8 791.5,670.9 788.5,670.0 786.4,668.7 785.0,667.2 783.5,664.2 782.9,661.2 780.6,659.0 779.5,656.7 778.8,656.1 775.8,655.3 774.2,653.9 773.8,652.2 774.0,650.7 774.8,649.2ZM891.7,656.0 892.0,655.7 892.8,656.7 892.7,657.5 892.1,658.2 891.3,657.5 891.2,656.7ZM866.1,656.7 867.2,656.4 868.8,656.5 871.0,657.5 872.9,659.7 873.8,662.0 873.9,665.0 872.7,668.0 871.0,669.9 868.8,670.9 866.5,670.9 864.2,669.8 862.2,667.2 861.5,665.0 861.5,662.0 862.4,659.7 864.2,657.6ZM736.2,662.7 736.8,662.2 737.3,662.7 737.2,663.5 736.8,663.8 736.4,663.5ZM906.0,665.0 907.0,664.4 907.8,664.5 908.6,665.0 909.1,665.7 909.2,666.5 908.9,667.2 908.1,668.0 907.0,668.2 905.7,667.2 905.5,665.7ZM891.4,689.7 893.5,689.1 895.8,689.0 897.2,689.4 898.8,690.2 900.6,692.0 902.5,695.4 903.2,696.1 904.8,696.6 905.7,697.2 906.3,698.0 906.8,699.5 906.7,701.0 906.0,702.5 904.8,703.4 902.5,703.5 901.8,704.0 898.5,709.2 896.5,711.4 894.6,713.0 892.8,714.0 889.8,715.0 887.5,715.0 885.2,714.2 883.8,713.1 882.4,711.5 881.7,710.0 881.1,707.7 880.9,705.5 881.2,703.2 881.9,700.2 883.3,697.2 884.7,695.0 886.8,692.7 889.0,690.9ZM867.5,718.2 869.5,717.7 871.0,718.0 872.5,719.1 873.8,721.2 874.0,723.5 873.9,725.0 873.2,726.5 871.7,728.0 870.2,728.6 868.0,728.5 866.5,727.5 865.2,725.7 864.7,723.5 865.1,721.2 865.8,719.7Z"/>
<path fill="#0000ff" d="M690.9,309.4 694.0,309.3 694.9,309.4 696.1,310.2 696.5,310.9 696.6,311.7 696.3,312.4 695.2,313.2 692.5,313.7 690.6,313.2 689.5,312.4 689.3,311.7 689.5,310.4ZM747.9,370.9 749.5,370.9 750.2,371.3 750.6,372.4 750.3,373.9 749.4,375.5 748.0,376.9 745.8,378.4 743.5,378.4 742.9,377.7 742.9,376.2 743.5,374.7 744.6,373.2 746.3,371.7ZM761.9,382.9 764.5,382.5 767.1,382.9 768.9,384.4 769.6,386.7 769.2,388.9 768.0,391.2 765.5,393.5 763.0,394.6 760.8,395.0 758.5,394.5 756.9,393.4 756.2,392.5 755.9,391.2 756.0,388.9 757.0,386.7 759.2,384.4ZM781.5,401.0 783.2,400.6 784.8,400.9 787.3,402.4 789.2,404.7 790.7,407.7 793.1,409.9 795.2,412.9 797.1,414.4 798.4,415.9 799.5,418.9 799.5,421.2 799.1,422.7 798.3,424.2 796.8,425.8 795.8,426.4 793.8,427.2 791.5,427.1 789.2,426.3 787.0,424.1 786.3,422.7 785.9,421.2 785.8,417.4 784.8,414.9 784.0,412.2 780.9,408.4 779.7,405.4 779.6,403.9 780.0,402.4ZM816.5,409.2 817.8,408.7 819.2,409.0 820.8,410.6 821.5,412.2 822.2,415.9 821.7,423.4 821.2,424.9 820.3,426.5 819.2,427.4 817.8,428.3 816.2,428.7 814.8,428.7 813.2,428.3 811.8,427.4 810.2,425.9 806.5,420.7 805.8,418.9 805.7,416.7 806.5,415.2 808.0,414.3 810.2,414.3 813.2,415.0 813.8,414.5 814.8,411.4ZM713.6,425.7 715.0,425.6 715.8,426.0 716.2,427.2 715.8,428.0 714.2,428.5 713.2,427.9 712.8,427.2 712.9,426.4ZM664.4,465.4 665.5,465.1 667.0,465.0 668.2,465.4 669.2,466.2 670.0,467.4 670.3,468.4 670.0,470.7 669.2,471.7 667.8,472.8 666.2,473.0 664.0,472.9 663.2,473.7 662.7,475.2 662.5,478.9 661.8,481.2 661.0,482.9 659.5,484.6 658.0,485.7 656.5,486.3 654.2,486.5 652.8,486.3 651.2,485.6 649.8,484.5 648.3,482.7 647.5,481.1 647.0,478.9 646.9,476.7 647.5,473.9 648.2,472.3 650.5,469.9 653.5,468.5 655.8,468.5 659.5,469.9 661.0,470.1 661.8,469.8 662.8,466.9ZM812.4,470.7 814.0,470.6 815.5,471.0 817.0,472.1 817.9,473.7 818.2,475.9 817.8,477.4 816.7,478.9 815.5,479.8 813.2,480.2 811.8,479.8 810.5,478.9 809.4,477.4 809.0,475.2 809.5,473.2 810.9,471.4ZM676.0,475.2 679.0,475.2 681.2,476.0 683.5,478.0 684.7,480.5 685.0,482.7 684.2,485.7 682.4,487.9 679.8,489.5 676.8,489.7 675.2,489.4 673.8,488.7 672.0,487.2 670.7,484.9 670.3,482.0 671.1,479.0 673.0,476.6ZM836.0,480.4 837.2,479.9 838.0,479.9 839.2,480.5 840.2,481.7 840.5,483.4 840.3,484.9 839.1,486.4 837.2,487.0 835.8,486.4 835.0,485.6 834.6,484.2 834.6,482.7 835.0,481.6ZM700.7,481.9 703.0,481.4 703.8,481.9 703.8,482.9 703.0,484.9 700.8,488.2 698.6,490.2 697.0,491.2 695.5,491.9 694.0,491.9 693.7,490.9 694.0,489.3 694.8,487.8 696.9,484.9 698.4,483.4ZM743.0,487.2 745.0,487.2 747.2,488.3 748.8,490.2 749.8,493.2 749.8,496.2 748.8,499.2 747.2,501.1 745.0,502.2 742.8,502.1 740.5,500.9 739.0,498.9 738.1,496.2 738.1,493.2 739.0,490.5 740.5,488.5 741.2,487.9ZM825.8,488.7 827.5,488.5 829.0,488.7 830.5,489.8 831.3,490.9 831.5,492.4 831.2,494.3 830.5,495.5 829.0,496.6 827.5,497.0 826.0,496.8 824.5,495.9 823.2,493.9 823.0,492.5 823.8,490.3 824.5,489.4ZM873.5,497.7 876.3,497.8 880.8,499.2 886.0,500.0 889.0,501.4 890.5,502.9 891.2,505.2 890.7,506.7 889.5,508.2 886.8,509.7 884.5,510.4 882.2,510.6 880.8,510.8 876.2,512.2 873.2,512.2 871.8,511.9 870.0,511.2 868.7,510.4 867.2,508.7 866.5,507.2 866.1,505.2 866.4,502.9 867.2,501.4 869.5,499.1 871.0,498.3ZM681.4,500.0 683.5,499.4 685.0,499.7 686.8,500.7 688.0,502.2 688.6,504.4 688.2,506.7 687.2,508.3 685.2,509.7 683.5,509.9 682.0,509.7 680.5,508.8 679.0,506.7 678.6,504.4 679.0,502.7 679.8,501.4ZM723.1,499.9 724.8,500.3 726.2,501.4 727.0,502.7 727.4,504.4 727.2,506.7 726.5,508.2 725.5,509.3 724.0,509.9 721.8,509.7 720.7,509.0 719.5,507.1 719.2,505.2 719.5,502.9 720.2,501.5 721.8,500.3ZM762.5,532.2 763.8,531.6 764.9,532.2 765.3,533.0 765.3,533.7 764.9,534.5 763.8,535.0 762.5,534.5 762.1,533.7ZM740.1,533.7 742.0,533.4 743.5,533.8 745.0,535.0 745.8,536.4 746.1,538.2 745.8,540.2 745.0,541.6 743.5,542.8 742.0,543.2 739.8,542.7 738.2,541.4 737.5,539.8 737.3,538.2 737.5,536.7 738.3,535.2ZM864.6,604.2 866.5,603.7 868.0,604.2 869.2,605.7 869.7,607.2 869.5,610.2 868.8,612.2 867.2,614.3 865.8,615.3 864.2,615.7 862.8,615.3 861.5,614.0 860.9,611.7 861.0,609.5 861.8,607.2 862.8,605.7ZM858.0,621.5 859.8,621.3 861.5,622.2 862.8,624.0 863.3,626.7 863.1,629.7 862.0,632.7 860.4,635.0 858.2,636.5 856.0,636.6 854.5,635.9 853.3,634.2 852.7,631.2 852.9,628.2 854.0,625.2 856.0,622.6ZM799.2,625.2 801.2,625.1 803.5,625.5 806.3,626.7 808.8,628.3 812.5,632.1 814.0,634.2 815.8,638.0 816.2,638.6 817.0,639.0 821.5,638.4 826.8,638.9 831.5,640.2 838.0,643.4 842.5,640.5 846.2,639.6 848.5,639.7 850.6,640.2 853.7,641.9 856.1,644.0 858.2,646.9 859.6,650.0 860.2,653.0 860.3,656.0 859.8,659.2 858.2,662.4 856.8,664.2 853.8,666.4 851.5,667.2 847.8,667.3 844.8,666.5 841.8,664.8 838.8,661.7 836.8,658.2 835.6,653.7 835.0,652.8 828.5,652.2 825.2,651.4 820.0,649.2 816.2,646.6 815.5,646.3 812.5,647.5 811.0,647.6 807.9,647.0 804.9,645.5 802.0,643.2 799.8,640.8 797.5,637.5 796.0,634.2 795.5,631.2 795.9,628.2 796.7,626.7 797.5,626.0ZM789.6,656.0 792.2,655.4 795.2,655.8 798.1,657.5 799.7,659.7 800.3,662.7 799.7,665.0 798.0,667.2 795.5,668.7 793.0,669.2 790.0,668.7 787.4,667.2 785.7,665.0 785.2,662.7 785.7,659.7 787.3,657.5ZM867.2,658.2 868.8,658.3 870.2,659.1 871.8,661.0 872.3,662.7 872.4,664.2 871.8,666.5 870.2,668.3 868.8,669.0 866.5,669.0 865.0,668.2 863.7,666.5 863.2,665.0 863.1,662.7 864.0,660.5 865.3,659.0ZM810.9,664.2 813.2,664.3 814.8,665.2 815.6,666.5 815.9,668.0 815.6,669.5 814.8,670.8 813.3,671.7 811.8,671.9 810.2,671.5 808.8,670.2 808.1,668.7 808.1,667.2 808.8,665.8 809.5,664.9ZM891.8,691.2 895.0,690.8 896.5,691.1 898.1,692.0 899.5,693.4 900.2,694.8 901.0,698.7 900.8,701.0 900.2,703.2 898.0,707.6 895.0,710.9 893.0,712.2 891.2,712.9 889.0,713.2 887.5,713.1 886.0,712.5 884.6,711.4 883.5,710.0 882.9,708.5 882.5,704.7 883.4,700.2 885.4,696.5 888.2,693.3ZM868.0,721.2 869.5,720.6 870.7,721.2 871.3,722.0 871.5,723.5 871.4,724.2 871.0,725.0 869.9,725.7 868.7,725.7 868.0,725.2 867.4,724.2 867.3,722.7Z"/>
<path fill="#00ff00" d="M763.0,383.7 765.2,383.6 767.1,384.4 768.2,385.9 768.4,387.4 768.1,388.9 766.7,391.2 764.8,392.7 763.0,393.5 760.8,393.8 759.1,393.4 757.8,392.4 757.0,390.4 757.2,388.9 758.5,386.5 760.8,384.6ZM781.9,402.5 783.2,402.0 784.0,402.0 785.5,402.5 787.0,403.7 789.6,407.7 794.5,413.4 797.5,416.4 798.5,418.9 798.5,421.2 797.6,423.4 796.2,424.9 795.2,425.6 793.8,426.1 791.5,426.1 789.2,425.0 787.8,423.4 787.0,421.7 786.6,417.4 785.3,412.9 784.0,410.4 781.8,407.8 781.1,406.2 781.0,403.8ZM816.7,410.7 817.8,410.2 819.2,410.6 820.0,411.5 820.8,413.0 821.4,418.2 821.1,423.5 820.0,425.8 817.8,427.6 816.2,428.0 814.8,428.0 812.6,427.2 810.9,425.7 808.3,421.9 807.2,420.0 806.9,417.4 807.6,415.9 808.8,415.4 812.5,415.8 814.0,415.4 814.7,414.4 815.5,412.4ZM664.5,467.0 666.2,466.3 667.8,466.7 668.5,467.4 669.0,469.2 668.5,470.6 667.8,471.3 667.0,471.6 665.5,471.6 663.9,470.7 663.7,468.4ZM653.2,469.9 655.8,469.8 659.5,471.2 661.0,472.8 661.5,474.4 661.3,478.9 660.6,481.2 658.8,483.7 656.5,485.0 654.2,485.3 652.8,484.9 651.2,484.2 649.2,481.9 648.1,478.9 648.1,475.9 649.2,472.9 651.2,470.8ZM811.4,472.2 812.5,471.6 814.0,471.5 815.5,472.0 816.5,472.9 817.2,474.4 817.3,476.0 816.8,477.4 815.5,478.8 814.0,479.3 812.5,479.2 811.0,478.3 810.4,477.4 809.9,475.9 810.0,474.4 810.7,473.0ZM675.3,476.7 677.5,476.2 679.8,476.6 682.0,478.1 683.2,479.7 683.8,482.7 683.2,485.0 682.0,486.7 679.8,488.2 677.5,488.6 675.2,488.1 673.0,486.5 672.0,484.9 671.5,482.7 671.7,480.4 673.1,478.2ZM741.8,488.7 743.5,488.1 745.8,488.5 747.2,489.5 748.7,491.7 749.2,493.9 748.9,496.9 747.8,499.2 746.2,500.7 744.2,501.3 742.0,500.8 740.5,499.6 739.3,497.7 738.8,495.5 739.1,492.5 740.2,490.2ZM826.5,490.2 828.2,490.2 829.8,491.6 829.9,493.2 829.0,494.7 827.5,495.3 826.8,495.3 825.6,494.7 825.0,494.0 824.7,492.4 824.9,491.7 825.3,490.9ZM871.1,499.2 873.2,498.6 876.2,498.6 881.5,500.4 885.2,501.2 887.5,502.3 888.7,503.7 889.0,504.4 888.9,505.9 888.5,506.7 887.5,507.7 886.0,508.6 883.0,509.3 877.0,511.2 874.8,511.5 871.8,511.1 869.3,509.7 868.0,508.2 867.3,506.7 867.0,505.2 867.2,503.7 867.8,502.2 868.8,500.8ZM683.4,500.7 684.2,500.7 685.8,501.4 686.6,502.2 687.3,503.7 687.4,505.2 686.9,506.7 686.4,507.5 685.0,508.4 683.5,508.7 681.8,508.2 680.5,507.0 679.8,505.2 679.9,503.7 680.6,502.2 682.0,501.1ZM723.2,501.4 724.0,501.6 725.0,502.2 725.6,502.9 726.2,504.4 726.1,505.9 725.5,507.3 724.0,508.4 722.5,508.4 721.8,508.0 721.0,507.2 720.4,505.2 721.0,502.8 721.8,502.0ZM740.1,535.2 742.0,534.7 743.3,535.2 744.2,536.2 744.8,537.5 744.8,539.0 744.3,540.5 743.5,541.3 742.0,541.9 741.2,541.9 739.8,541.2 739.0,540.2 738.6,539.0 738.7,537.5 739.0,536.4ZM864.3,605.7 865.8,605.0 866.5,605.0 868.0,605.9 868.6,607.2 868.7,609.5 868.0,611.6 867.2,612.8 865.9,614.0 864.2,614.4 863.5,614.2 862.8,613.7 862.0,612.3 862.0,609.4 862.8,607.5ZM857.3,623.0 859.0,622.5 860.5,622.8 861.4,623.7 862.2,626.0 862.4,628.2 862.0,630.4 860.5,633.5 858.9,635.0 856.7,635.5 855.2,635.0 854.5,634.2 853.8,632.2 853.8,628.7 854.5,626.3 856.0,624.1ZM799.3,626.0 801.2,625.7 803.5,626.1 806.5,627.6 808.8,629.2 812.1,632.7 814.4,636.5 815.5,639.0 816.2,640.0 817.0,640.3 820.8,639.4 826.0,639.5 831.3,641.0 834.4,642.5 837.2,644.3 838.0,644.3 838.8,644.1 842.5,641.3 845.5,640.4 849.2,640.6 853.0,642.2 855.2,644.0 857.1,646.2 858.7,649.2 859.5,652.2 859.7,655.2 859.3,658.2 858.1,661.2 856.8,663.2 855.2,664.6 852.2,666.2 849.2,666.7 845.5,666.1 841.8,663.9 839.2,661.2 837.5,658.2 836.7,656.0 836.2,653.0 835.8,652.2 835.0,651.7 829.0,651.5 825.2,650.6 820.4,648.5 816.2,645.2 815.5,645.2 812.5,646.8 811.0,646.9 808.8,646.5 805.8,645.2 802.8,642.9 800.8,641.0 798.6,638.0 797.0,635.0 796.2,632.0 796.3,629.0 797.5,626.9ZM789.8,656.7 792.2,656.1 794.5,656.3 796.0,656.8 797.5,657.9 798.9,659.7 799.5,662.0 799.2,664.2 797.8,666.5 795.5,668.0 793.0,668.5 790.8,668.3 788.5,667.2 786.5,665.0 785.9,662.7 786.0,661.2 786.5,659.7 787.8,658.0ZM866.6,659.7 868.8,659.7 870.2,660.8 871.0,662.2 871.0,665.2 870.2,666.6 868.8,667.7 867.2,667.9 865.8,667.2 865.0,666.4 864.3,665.0 864.2,663.5 864.5,662.0 865.5,660.5ZM810.5,665.7 812.5,665.3 813.5,665.7 814.2,666.5 814.6,667.2 814.7,668.7 813.6,670.2 811.8,670.7 810.4,670.2 809.7,669.5 809.4,668.7 809.4,667.2ZM891.9,692.0 895.0,691.6 896.5,692.0 897.7,692.7 899.5,695.0 900.3,698.7 900.1,701.0 899.6,703.2 898.0,706.5 895.1,710.0 892.0,711.8 889.0,712.4 887.5,712.2 885.9,711.5 884.5,710.0 883.8,708.6 883.1,705.5 883.8,701.0 886.0,696.6 889.0,693.5Z"/>
<path fill="#00cd00" d="M761.7,388.2 763.0,387.5 763.8,387.9 764.0,388.2 763.9,388.9 763.1,389.7 761.9,389.7 761.4,388.9ZM790.8,416.7 791.5,416.3 793.0,416.2 794.5,417.1 795.4,418.2 795.8,418.9 795.9,420.4 795.3,421.9 794.5,422.8 793.8,423.2 792.2,423.4 790.8,422.7 790.1,421.9 789.5,420.4 789.5,418.9 790.0,417.5ZM813.3,417.4 814.7,416.9 817.0,417.0 818.5,417.8 819.8,419.7 820.2,421.2 820.0,423.4 819.2,424.9 817.4,426.4 815.5,426.8 813.6,426.5 811.8,425.0 811.0,423.8 810.6,422.0 811.0,419.7 811.8,418.6ZM653.2,472.2 655.0,471.9 656.5,472.3 658.0,473.3 659.2,475.2 659.6,477.4 659.2,479.7 658.0,481.6 656.5,482.7 654.2,483.1 652.8,482.6 651.2,481.4 650.2,479.7 649.8,477.4 650.3,475.2 651.2,473.6ZM813.1,473.7 814.1,473.7 815.0,474.4 815.3,475.2 814.8,476.7 814.0,477.1 813.2,477.1 812.5,476.7 812.0,475.9 811.9,475.2 812.2,474.5ZM675.8,478.2 677.5,477.8 679.0,478.0 680.6,478.9 681.7,480.5 682.2,481.9 682.0,483.7 681.2,485.2 679.8,486.4 678.2,486.9 676.0,486.7 674.4,485.7 673.4,484.2 673.0,482.0 673.5,480.4 674.5,479.0ZM742.9,490.2 744.2,490.0 745.8,490.5 746.9,491.7 747.6,493.2 747.7,495.4 747.3,496.9 746.5,498.2 745.0,499.3 743.5,499.4 742.0,498.7 741.1,497.7 740.4,496.2 740.3,493.9 740.7,492.4 741.7,490.9ZM871.7,500.7 874.0,500.0 876.2,500.2 877.8,500.8 880.8,502.7 883.8,503.7 884.5,504.5 884.6,505.2 884.1,506.0 880.5,507.4 877.8,509.2 875.5,509.9 873.2,509.8 871.0,508.9 869.2,506.7 868.9,504.4 869.8,502.2ZM683.0,503.7 683.5,503.5 684.3,503.7 684.7,504.4 684.6,505.2 684.2,505.7 683.5,505.9 682.5,505.2 682.5,504.4ZM799.8,626.7 801.2,626.6 802.8,626.8 806.5,628.6 809.5,631.1 812.1,634.2 814.4,638.7 815.1,641.7 815.0,643.2 814.2,644.7 812.5,645.9 811.0,646.1 809.5,645.9 806.5,644.6 803.5,642.4 800.1,638.7 798.0,635.0 797.0,631.2 797.1,629.7 797.6,628.2 799.0,626.9ZM844.4,641.7 846.2,641.3 847.8,641.3 850.8,642.0 852.2,642.8 855.4,645.5 857.0,647.7 858.0,650.0 858.7,652.2 858.9,655.2 858.6,657.5 857.9,659.7 856.5,662.0 855.2,663.3 853.8,664.4 851.5,665.4 849.2,665.7 847.0,665.5 843.2,663.9 841.0,662.0 839.7,660.5 838.4,658.2 837.6,656.0 837.1,651.5 837.7,647.7 839.1,645.5 841.0,643.5 843.2,642.0ZM822.3,643.2 823.8,642.6 826.0,642.5 829.0,643.2 830.7,644.0 832.0,644.9 833.1,646.2 833.2,647.0 832.8,647.7 832.0,648.1 830.5,648.5 828.2,648.4 825.7,647.7 824.1,647.0 823.0,646.2 821.9,644.7 821.8,644.0ZM790.4,657.5 793.0,657.0 795.2,657.6 797.2,659.0 798.1,660.5 798.5,662.7 798.1,664.2 796.8,666.1 794.8,667.2 793.0,667.6 790.8,667.3 788.5,665.9 787.3,664.2 787.0,662.0 787.3,660.5 788.5,658.7ZM891.4,694.2 892.8,693.8 894.2,693.7 896.5,694.7 897.9,696.5 898.5,699.5 898.1,702.5 896.5,705.9 894.2,708.4 891.6,710.0 889.0,710.2 886.8,709.2 885.3,707.0 884.9,704.7 885.3,701.7 886.5,698.7 889.0,695.7Z"/>
<path fill="#009600" d="M792.4,418.9 793.0,418.9 793.7,419.7 793.6,420.4 793.0,421.0 792.2,421.0 791.8,420.5 791.7,419.7ZM814.5,418.9 816.5,419.0 817.8,419.8 818.4,421.2 818.4,422.7 818.0,423.4 817.5,424.2 816.3,424.9 814.8,425.0 814.0,424.7 813.2,424.1 812.5,422.7 812.5,421.2 812.9,420.4 813.3,419.7ZM652.9,474.4 654.2,473.8 655.0,473.8 656.5,474.4 657.2,475.2 657.8,476.7 657.9,478.2 657.3,479.7 656.5,480.6 655.8,481.0 654.2,481.2 652.8,480.4 652.1,479.7 651.5,478.2 651.6,476.7 652.0,475.5ZM676.2,479.7 678.2,479.4 679.8,480.2 680.4,481.2 680.6,482.0 680.5,483.4 679.3,485.0 678.2,485.4 676.8,485.3 675.1,484.2 674.7,483.4 674.6,481.9 675.2,480.4ZM743.1,492.5 744.2,492.2 744.9,492.4 745.8,493.5 745.9,495.4 744.9,496.9 744.2,497.2 743.1,496.9 742.1,495.4 742.1,493.9ZM872.4,501.4 874.0,501.0 875.5,501.1 877.0,501.6 878.6,502.9 879.3,504.5 879.2,505.9 878.2,507.5 877.0,508.4 875.1,508.9 873.2,508.8 871.8,508.2 870.4,506.7 870.0,505.2 870.2,503.7 871.0,502.5ZM799.4,627.5 800.5,627.1 802.0,627.2 805.0,628.4 808.0,630.5 811.3,634.2 813.5,638.0 814.4,641.0 814.4,642.5 814.0,643.9 813.3,644.7 812.5,645.2 810.2,645.4 807.2,644.3 803.6,641.7 800.9,638.7 798.6,635.0 797.7,632.0 797.6,630.5 797.9,629.0 798.4,628.2ZM844.0,642.4 846.2,642.0 848.5,642.1 850.7,642.7 852.2,643.5 854.5,645.3 855.9,647.0 857.7,650.7 858.2,653.0 858.3,655.2 858.0,657.5 857.2,659.7 855.0,662.7 853.8,663.7 851.5,664.7 849.2,665.1 847.8,665.0 845.5,664.4 844.0,663.7 842.5,662.6 840.4,660.5 838.4,656.7 837.9,654.5 837.7,652.2 837.9,650.0 838.6,647.7 839.4,646.2 841.0,644.3 842.5,643.2ZM790.7,658.2 792.2,657.8 794.5,658.1 796.0,659.0 797.2,660.5 797.6,662.0 797.5,663.5 796.7,665.0 795.2,666.1 793.8,666.7 791.5,666.7 789.5,665.7 788.3,664.2 787.8,662.0 788.2,660.5 789.2,659.1ZM893.5,695.7 895.4,696.5 896.5,698.0 896.9,699.5 896.7,701.7 896.0,704.0 894.4,706.2 892.8,707.5 890.5,708.3 889.0,708.1 888.2,707.7 887.0,706.2 886.5,704.0 886.8,701.7 887.8,699.5 889.6,697.2 891.2,696.1Z"/>
<path fill="#ffff00" d="M654.0,475.9 655.0,475.8 656.1,476.7 656.1,478.2 655.5,478.9 654.2,479.2 653.3,478.2 653.3,476.7ZM676.7,481.2 677.5,480.9 678.5,481.2 679.1,481.9 679.0,483.0 678.2,483.8 677.5,483.9 676.8,483.7 676.1,482.7 676.1,481.9ZM873.9,502.2 875.1,502.2 876.2,502.6 877.0,503.1 877.8,504.2 877.7,505.9 876.2,507.4 874.8,507.8 873.2,507.6 871.9,506.7 871.5,505.9 871.3,504.5 871.8,503.5 872.5,502.8ZM799.2,628.2 801.2,627.7 803.3,628.2 804.8,629.0 807.9,631.2 810.2,633.7 812.5,637.2 813.8,641.0 813.6,643.2 813.2,644.0 812.2,644.7 811.0,644.9 809.5,644.7 806.5,643.2 803.6,641.0 801.2,638.2 799.3,635.0 798.2,632.0 798.2,629.7ZM843.7,643.2 847.0,642.5 850.8,643.3 853.0,644.7 854.5,646.1 856.8,649.7 857.6,653.0 857.7,655.2 857.4,657.5 856.6,659.7 855.2,661.6 854.1,662.7 852.2,663.8 850.8,664.3 848.5,664.4 846.7,664.2 844.8,663.5 841.8,661.2 839.5,657.9 838.7,656.0 838.3,653.0 838.8,648.9 839.6,647.0 840.7,645.5 842.4,644.0ZM791.9,659.0 793.8,659.0 795.2,659.7 796.0,660.7 796.4,662.0 796.4,662.7 795.8,664.2 794.5,665.3 793.2,665.7 791.5,665.5 790.3,665.0 789.2,663.7 789.0,662.7 789.2,661.2 789.6,660.5 790.3,659.7ZM891.7,698.0 893.5,697.9 894.2,698.3 895.0,699.4 895.1,701.0 894.9,702.5 894.2,704.0 892.8,705.5 891.3,706.2 890.1,706.2 889.0,705.6 888.5,704.7 888.2,703.2 888.5,701.7 889.1,700.2 890.4,698.7Z"/>
<path fill="#ffcd00" d="M800.4,629.7 802.0,629.6 804.0,630.5 808.0,633.9 810.2,636.8 811.7,639.5 812.2,641.7 812.0,642.5 811.0,643.2 808.5,642.5 806.3,641.0 804.2,639.0 802.0,636.2 800.5,633.6 799.8,631.2 799.9,630.5ZM844.3,644.7 846.2,644.1 847.8,644.1 850.8,645.0 852.2,645.9 853.8,647.3 855.7,650.7 856.4,654.5 855.6,658.2 853.8,660.9 851.5,662.4 848.5,662.9 845.5,662.2 842.5,659.9 840.4,656.7 839.7,653.7 840.0,650.0 841.4,647.0 842.5,645.8Z"/>
<path fill="#ff6400" d="M844.5,646.2 847.0,645.5 850.0,646.1 852.4,647.7 854.4,650.7 854.9,652.2 855.1,654.5 854.5,657.4 853.0,659.7 850.8,661.1 849.2,661.5 847.8,661.4 845.5,660.7 843.3,659.0 841.8,656.6 840.9,653.7 841.1,650.7 842.5,647.9Z"/>
<path fill="#ff0000" d="M846.7,647.0 849.2,647.2 850.8,647.9 852.7,650.0 853.7,652.2 853.9,654.5 853.5,656.7 852.2,658.6 850.0,659.9 847.8,660.1 845.5,659.2 843.6,657.5 842.7,656.0 842.2,654.5 842.1,652.2 842.7,650.0 843.8,648.5 844.7,647.7Z"/>
<path fill="#cd3200" d="M846.0,648.5 847.8,648.1 850.0,648.9 851.5,650.2 852.5,652.2 852.8,654.5 852.5,656.0 851.5,657.5 850.0,658.6 847.8,658.8 846.2,658.3 844.8,657.1 843.6,655.2 843.2,653.0 843.4,651.5 844.1,650.0Z"/>
<path fill="#a00000" d="M845.6,650.0 847.0,649.3 848.5,649.4 850.0,650.2 851.1,651.5 851.6,653.0 851.6,655.2 850.8,656.7 850.0,657.3 848.5,657.7 847.0,657.5 845.9,656.7 844.8,655.3 844.3,653.7 844.4,652.2 844.8,651.0Z"/>
<path fill="#ff00ff" d="M847.6,650.7 849.2,651.3 850.0,652.1 850.3,653.0 850.4,654.5 850.0,655.3 849.2,656.0 848.5,656.2 847.0,655.9 846.2,655.2 845.5,653.7 845.7,652.2 846.2,651.5Z"/>
</g>
<g id="grid" stroke="#a0a0a0" stroke-width="1.45" fill="none">
<line x1="271.63" y1="124.12" x2="935.90" y2="124.12" stroke-dasharray="1.9 7.926"/>
<line x1="271.63" y1="191.50" x2="935.90" y2="191.50" stroke-dasharray="1.9 7.926"/>
<line x1="271.63" y1="258.88" x2="935.90" y2="258.88" stroke-dasharray="1.9 7.926"/>
<line x1="271.63" y1="326.27" x2="935.90" y2="326.27" stroke-dasharray="1.9 7.926"/>
<line x1="271.63" y1="393.65" x2="935.90" y2="393.65" stroke-dasharray="1.9 7.926"/>
<line x1="271.63" y1="461.03" x2="935.90" y2="461.03" stroke-dasharray="1.9 7.926"/>
<line x1="271.63" y1="528.41" x2="935.90" y2="528.41" stroke-dasharray="1.9 7.926"/>
<line x1="271.63" y1="595.79" x2="935.90" y2="595.79" stroke-dasharray="1.9 7.926"/>
<line x1="271.63" y1="663.18" x2="935.90" y2="663.18" stroke-dasharray="1.9 7.926"/>
<line x1="271.63" y1="730.56" x2="935.90" y2="730.56" stroke-dasharray="1.9 7.926"/>
<line x1="271.63" y1="797.94" x2="935.90" y2="797.94" stroke-dasharray="1.9 7.926"/>
<line x1="301.30" y1="811.82" x2="301.30" y2="80.70" stroke-dasharray="1.9 7.633"/>
<line x1="359.13" y1="811.82" x2="359.13" y2="80.70" stroke-dasharray="1.9 7.633"/>
<line x1="416.96" y1="811.82" x2="416.96" y2="80.70" stroke-dasharray="1.9 7.633"/>
<line x1="474.78" y1="811.82" x2="474.78" y2="80.70" stroke-dasharray="1.9 7.633"/>
<line x1="532.61" y1="811.82" x2="532.61" y2="80.70" stroke-dasharray="1.9 7.633"/>
<line x1="590.44" y1="811.82" x2="590.44" y2="80.70" stroke-dasharray="1.9 7.633"/>
<line x1="648.26" y1="811.82" x2="648.26" y2="80.70" stroke-dasharray="1.9 7.633"/>
<line x1="706.09" y1="811.82" x2="706.09" y2="80.70" stroke-dasharray="1.9 7.633"/>
<line x1="763.92" y1="811.82" x2="763.92" y2="80.70" stroke-dasharray="1.9 7.633"/>
<line x1="821.75" y1="811.82" x2="821.75" y2="80.70" stroke-dasharray="1.9 7.633"/>
<line x1="879.57" y1="811.82" x2="879.57" y2="80.70" stroke-dasharray="1.9 7.633"/>
</g>
<g id="map" stroke="#000" stroke-width="1.15" fill="none" stroke-linejoin="round" stroke-linecap="round">
<clipPath id="c"><rect x="262.8" y="79.2" width="674.6" height="741.2"/></clipPath>
<g clip-path="url(#c)">
<polyline points="278.0,79.5 287.5,95.0 295.0,101.2 300.0,111.2 304.2,121.8 322.0,129.2 325.8,139.2 318.0,135.8 310.8,141.8 317.5,147.5 322.5,155.5 318.0,163.2 307.5,161.8 298.2,165.5 291.5,159.8 278.0,171.2 295.0,179.2 308.8,191.5 319.2,189.5 325.8,195.8 327.5,207.5 327.5,221.2 324.5,233.0 332.8,229.5 330.0,238.8 321.2,243.0 313.8,249.2 303.8,251.5 300.5,260.5 305.2,271.8 300.0,279.5 293.8,285.0 288.5,293.2 293.2,301.2 291.5,313.8 293.8,325.8 299.5,335.0 305.5,353.2 331.2,393.2 348.0,401.0 360.0,401.0 380.8,405.0 388.8,408.8 403.2,420.8 428.8,461.2 437.0,465.0 444.2,445.0 452.5,441.0 454.5,429.5 464.5,431.2 475.5,413.8 481.8,409.2 472.0,411.5 468.8,399.2 468.0,385.0 456.2,385.0 449.2,379.2 438.0,376.5 430.8,373.2 420.0,357.0 411.5,351.0 406.2,315.5 399.2,309.2 407.0,314.5 417.5,331.2 425.0,335.5 435.5,333.2 440.5,341.2 451.2,343.2 456.2,350.8 465.0,355.5 470.0,363.0 480.0,369.5 487.5,372.5 497.0,375.0 488.8,379.2 498.8,377.0 506.2,383.2 508.0,395.5 515.0,401.2 525.0,417.5 525.0,431.8 520.0,439.5 518.0,451.2 525.0,457.0 530.0,465.0 536.2,470.5 543.8,479.2 552.5,476.8 561.2,478.0 572.5,482.5 591.2,486.8 601.2,490.8 612.5,496.2 621.2,510.8 630.0,513.2 657.5,524.5 671.2,536.2 677.0,544.5 685.0,548.8 692.5,555.0 697.5,562.5 705.0,569.2 710.0,578.2 718.8,586.2 723.8,595.0 725.5,603.0 721.8,613.8 723.8,625.5 728.8,633.0 721.2,639.5 717.5,647.0 727.0,645.0 718.8,650.0 717.0,661.2 705.0,671.2 700.0,682.5 705.0,692.5 710.0,697.5 720.0,707.5 728.8,718.8 737.5,722.5 748.8,720.5 783.8,736.2 788.8,727.5 789.2,715.0 786.2,706.2 778.8,696.2 762.5,688.8 757.5,680.0 751.2,660.5 773.8,656.8 783.8,672.5 795.0,677.5 806.2,680.5 811.2,682.5 818.0,687.5 806.2,688.8 810.0,696.2 821.5,698.8 813.0,702.5 817.5,710.0 821.2,722.5 817.0,728.8 814.2,742.5 822.5,749.5 835.0,756.2 846.2,767.5 857.5,787.5 860.8,798.8 860.8,814.5 867.5,814.5 869.5,802.5 865.0,785.0 866.2,770.0 872.0,759.5 886.2,751.2 900.0,748.2 912.5,750.0 930.0,756.2 937.5,758.0"/>
<polyline points="926.2,470.0 920.5,471.2 917.5,481.2 908.8,485.0 896.2,473.8 890.0,466.2 881.2,461.2 871.2,462.5 865.8,471.2 872.5,482.5 868.8,485.0 858.8,489.2 853.8,497.5 854.2,505.0 854.2,581.2 855.0,582.5 865.0,584.2 875.0,589.2 882.5,597.5 891.2,601.2 895.0,608.8 891.2,618.8 882.5,626.2 867.5,633.8 863.8,642.5 857.5,648.8 862.5,662.5 871.2,676.2 874.5,697.5 874.5,711.2 871.2,716.2 862.5,726.2 851.2,728.8 841.2,740.5 831.2,746.2 843.8,757.5 853.8,763.8 860.8,798.8"/>
<polyline points="322.0,129.2 325.5,120.0 332.0,110.8 335.0,101.5 344.5,99.5 360.0,112.5 367.5,115.8 387.5,120.0 473.2,159.5 481.2,155.5 495.0,144.2 503.8,140.0 511.2,133.2 519.2,129.8 526.2,135.5 538.2,135.5 546.2,141.8 553.8,145.8 561.2,153.8 569.5,157.5 579.5,147.5 583.0,157.5 588.8,165.8 605.5,173.2 608.8,182.5 610.8,195.5 622.5,195.5 631.2,199.5 640.0,195.5 648.0,199.2 662.0,211.5 671.2,210.0 680.0,206.2 689.5,199.5 700.0,197.5 707.5,194.2 715.0,188.0 712.0,163.8"/>
<polyline points="325.8,79.5 332.5,85.8 349.5,93.8 355.0,102.0 372.5,109.5 392.5,113.5 400.0,117.0 408.8,123.8 416.2,125.5 430.0,125.5 440.0,127.5 457.5,135.0 470.0,135.2 478.2,139.2 487.5,138.0 495.0,132.5 499.5,121.8 497.5,110.0 499.5,97.5 496.2,87.5 490.5,79.5"/>
<polyline points="450.5,101.0 456.2,109.5 447.5,113.2 448.8,102.0 450.5,101.0"/>
<polyline points="422.5,343.8 432.5,346.2 437.5,353.0 427.0,355.5 420.5,349.5 422.5,343.8"/>
<polyline points="673.8,79.5 676.2,102.5 678.8,112.5 683.8,127.5 690.0,138.8 700.0,154.5 703.0,163.2 712.5,162.0 718.0,165.0 723.8,177.5 728.8,191.2 724.2,183.8 723.8,197.5 720.5,207.0 728.8,203.8 733.8,211.2 735.8,223.8 742.5,243.8 747.5,251.2 751.2,261.2 756.2,270.0 760.0,280.0 766.2,290.0 785.0,319.5 792.5,326.2 817.5,364.5 825.0,371.2 835.0,369.5 837.5,377.0 841.2,383.8 869.2,427.0 877.5,431.2 880.5,440.0 886.2,448.8 895.0,453.0 915.0,457.0 920.0,465.0 926.2,470.0 937.5,478.8"/>
</g></g>
<rect x="262.75" y="79.20" width="674.65" height="741.20" fill="none" stroke="#000" stroke-width="1.75"/>
<g stroke="#000" stroke-width="1.4">
<line x1="257.15" y1="124.12" x2="262.75" y2="124.12"/>
<line x1="257.15" y1="191.50" x2="262.75" y2="191.50"/>
<line x1="257.15" y1="258.88" x2="262.75" y2="258.88"/>
<line x1="257.15" y1="326.27" x2="262.75" y2="326.27"/>
<line x1="257.15" y1="393.65" x2="262.75" y2="393.65"/>
<line x1="257.15" y1="461.03" x2="262.75" y2="461.03"/>
<line x1="257.15" y1="528.41" x2="262.75" y2="528.41"/>
<line x1="257.15" y1="595.79" x2="262.75" y2="595.79"/>
<line x1="257.15" y1="663.18" x2="262.75" y2="663.18"/>
<line x1="257.15" y1="730.56" x2="262.75" y2="730.56"/>
<line x1="257.15" y1="797.94" x2="262.75" y2="797.94"/>
<line x1="301.30" y1="820.40" x2="301.30" y2="825.40"/>
<line x1="359.13" y1="820.40" x2="359.13" y2="825.40"/>
<line x1="416.96" y1="820.40" x2="416.96" y2="825.40"/>
<line x1="474.78" y1="820.40" x2="474.78" y2="825.40"/>
<line x1="532.61" y1="820.40" x2="532.61" y2="825.40"/>
<line x1="590.44" y1="820.40" x2="590.44" y2="825.40"/>
<line x1="648.26" y1="820.40" x2="648.26" y2="825.40"/>
<line x1="706.09" y1="820.40" x2="706.09" y2="825.40"/>
<line x1="763.92" y1="820.40" x2="763.92" y2="825.40"/>
<line x1="821.75" y1="820.40" x2="821.75" y2="825.40"/>
<line x1="879.57" y1="820.40" x2="879.57" y2="825.40"/>
</g>
<g id="ylabels" font-size="16.8" text-anchor="end">
<text x="252.2" y="130.32" textLength="41.5" lengthAdjust="spacingAndGlyphs">11.1N</text>
<text x="252.2" y="197.70" textLength="41.5" lengthAdjust="spacingAndGlyphs">10.8N</text>
<text x="252.2" y="265.08" textLength="41.5" lengthAdjust="spacingAndGlyphs">10.5N</text>
<text x="252.2" y="332.47" textLength="41.5" lengthAdjust="spacingAndGlyphs">10.2N</text>
<text x="252.2" y="399.85" textLength="33.0" lengthAdjust="spacingAndGlyphs">9.9N</text>
<text x="252.2" y="467.23" textLength="33.0" lengthAdjust="spacingAndGlyphs">9.6N</text>
<text x="252.2" y="534.61" textLength="33.0" lengthAdjust="spacingAndGlyphs">9.3N</text>
<text x="252.2" y="601.99" textLength="18.6" lengthAdjust="spacingAndGlyphs">9N</text>
<text x="252.2" y="669.38" textLength="33.0" lengthAdjust="spacingAndGlyphs">8.7N</text>
<text x="252.2" y="736.76" textLength="33.0" lengthAdjust="spacingAndGlyphs">8.4N</text>
<text x="252.2" y="804.14" textLength="33.0" lengthAdjust="spacingAndGlyphs">8.1N</text>
</g>
<g id="xlabels" font-size="16.8" text-anchor="middle">
<text x="301.00" y="840.6" textLength="43.5" lengthAdjust="spacingAndGlyphs">85.8W</text>
<text x="358.83" y="840.6" textLength="43.5" lengthAdjust="spacingAndGlyphs">85.5W</text>
<text x="416.66" y="840.6" textLength="43.5" lengthAdjust="spacingAndGlyphs">85.2W</text>
<text x="474.48" y="840.6" textLength="43.5" lengthAdjust="spacingAndGlyphs">84.9W</text>
<text x="532.31" y="840.6" textLength="43.5" lengthAdjust="spacingAndGlyphs">84.6W</text>
<text x="590.14" y="840.6" textLength="43.5" lengthAdjust="spacingAndGlyphs">84.3W</text>
<text x="647.96" y="840.6" textLength="30.0" lengthAdjust="spacingAndGlyphs">84W</text>
<text x="705.79" y="840.6" textLength="43.5" lengthAdjust="spacingAndGlyphs">83.7W</text>
<text x="763.62" y="840.6" textLength="43.5" lengthAdjust="spacingAndGlyphs">83.4W</text>
<text x="821.45" y="840.6" textLength="43.5" lengthAdjust="spacingAndGlyphs">83.1W</text>
<text x="879.27" y="840.6" textLength="43.5" lengthAdjust="spacingAndGlyphs">82.8W</text>
</g>
<g id="cbar" stroke="#000" stroke-width="1.2" stroke-linejoin="miter">
<rect x="1057.80" y="724.95" width="22.00" height="42.35" fill="#64ffff"/>
<rect x="1057.80" y="682.61" width="22.00" height="42.35" fill="#3296ff"/>
<rect x="1057.80" y="640.26" width="22.00" height="42.35" fill="#0000ff"/>
<rect x="1057.80" y="597.91" width="22.00" height="42.35" fill="#00ff00"/>
<rect x="1057.80" y="555.57" width="22.00" height="42.35" fill="#00cd00"/>
<rect x="1057.80" y="513.22" width="22.00" height="42.35" fill="#009600"/>
<rect x="1057.80" y="470.87" width="22.00" height="42.35" fill="#ffff00"/>
<rect x="1057.80" y="428.53" width="22.00" height="42.35" fill="#ffcd00"/>
<rect x="1057.80" y="386.18" width="22.00" height="42.35" fill="#ff6400"/>
<rect x="1057.80" y="343.83" width="22.00" height="42.35" fill="#ff0000"/>
<rect x="1057.80" y="301.49" width="22.00" height="42.35" fill="#cd3200"/>
<rect x="1057.80" y="259.14" width="22.00" height="42.35" fill="#a00000"/>
<rect x="1057.80" y="216.79" width="22.00" height="42.35" fill="#ff00ff"/>
<rect x="1057.80" y="174.45" width="22.00" height="42.35" fill="#9632c8"/>
<rect x="1057.80" y="132.10" width="22.00" height="42.35" fill="#f5f5f5"/>
<polygon points="1057.80,132.10 1079.80,132.10 1068.80,89.20" fill="#aaaaaa"/>
<polygon points="1057.80,767.30 1079.80,767.30 1068.80,810.50" fill="#fff"/>
<line x1="1079.80" y1="767.30" x2="1081.00" y2="767.30"/>
<line x1="1079.80" y1="724.95" x2="1081.00" y2="724.95"/>
<line x1="1079.80" y1="682.61" x2="1081.00" y2="682.61"/>
<line x1="1079.80" y1="640.26" x2="1081.00" y2="640.26"/>
<line x1="1079.80" y1="597.91" x2="1081.00" y2="597.91"/>
<line x1="1079.80" y1="555.57" x2="1081.00" y2="555.57"/>
<line x1="1079.80" y1="513.22" x2="1081.00" y2="513.22"/>
<line x1="1079.80" y1="470.87" x2="1081.00" y2="470.87"/>
<line x1="1079.80" y1="428.53" x2="1081.00" y2="428.53"/>
<line x1="1079.80" y1="386.18" x2="1081.00" y2="386.18"/>
<line x1="1079.80" y1="343.83" x2="1081.00" y2="343.83"/>
<line x1="1079.80" y1="301.49" x2="1081.00" y2="301.49"/>
<line x1="1079.80" y1="259.14" x2="1081.00" y2="259.14"/>
<line x1="1079.80" y1="216.79" x2="1081.00" y2="216.79"/>
<line x1="1079.80" y1="174.45" x2="1081.00" y2="174.45"/>
<line x1="1079.80" y1="132.10" x2="1081.00" y2="132.10"/>
</g>
<g id="cblabels" font-size="19.4" stroke="#fff" stroke-width="0.2">
<text x="1086.3" y="774.40" textLength="30.0" lengthAdjust="spacing">3.5</text>
<text x="1086.3" y="732.05" textLength="10.5" lengthAdjust="spacing">7</text>
<text x="1086.3" y="689.71" textLength="42.0" lengthAdjust="spacing">12.5</text>
<text x="1086.3" y="647.36" textLength="23.5" lengthAdjust="spacing">15</text>
<text x="1086.3" y="605.01" textLength="23.5" lengthAdjust="spacing">20</text>
<text x="1086.3" y="562.67" textLength="23.5" lengthAdjust="spacing">25</text>
<text x="1086.3" y="520.32" textLength="23.5" lengthAdjust="spacing">30</text>
<text x="1086.3" y="477.97" textLength="23.5" lengthAdjust="spacing">40</text>
<text x="1086.3" y="435.63" textLength="23.5" lengthAdjust="spacing">50</text>
<text x="1086.3" y="393.28" textLength="23.5" lengthAdjust="spacing">60</text>
<text x="1086.3" y="350.93" textLength="23.5" lengthAdjust="spacing">75</text>
<text x="1086.3" y="308.59" textLength="23.5" lengthAdjust="spacing">90</text>
<text x="1086.3" y="266.24" textLength="36.5" lengthAdjust="spacing">100</text>
<text x="1086.3" y="223.89" textLength="36.5" lengthAdjust="spacing">120</text>
<text x="1086.3" y="181.55" textLength="36.5" lengthAdjust="spacing">150</text>
<text x="1086.3" y="139.20" textLength="36.5" lengthAdjust="spacing">200</text>
</g>
<g id="title1" font-size="33.0" stroke="#fff" stroke-width="0.80" text-anchor="middle">
<text transform="translate(0,30.4) scale(0.780,1)" x="172.4 192.3 220.9 247.2 272.8 296.4 320.8 343.6 368.6 385.6 403.8 428.8 448.7 465.1 490.8">IMN<tspan font-size="46" dy="6.3">/</tspan><tspan dy="-6.3">SARAPIQUI_5</tspan></text>
<text transform="translate(0,30.4) scale(0.860,1)" x="487.8 508.7 525.2 544.0 558.1 574.7 588.1 599.2 616.6 638.0 651.5 666.6 687.4">Precipitacion</text>
<text transform="translate(0,30.4) scale(0.860,1)" x="728.1 749.4 769.4 794.2 822.7 837.2 853.1 874.1 895.7">Acumulada</text>
<text transform="translate(0,30.4) scale(0.860,1)" x="936.0 957.3">en</text>
<text transform="translate(0,30.4) scale(0.950,1)" x="903.9">6</text>
<text transform="translate(0,30.4) scale(0.860,1)" x="1039.9 1061.0 1079.4 1096.3 1116.6">horas</text>
<text transform="translate(0,30.4) scale(0.900,1)" x="1102.2 1125.0 1157.4 1180.0">(mm)</text>
</g>
<g id="title2" font-size="33.0" stroke="#fff" stroke-width="0.80" text-anchor="middle">
<text transform="translate(0,62.0) scale(0.950,1)" x="496.8 516.6 536.3 556.1 579.3 602.6 622.1 645.1 669.3 688.9">2026-01-05</text>
<text transform="translate(0,62.0) scale(0.900,1)" x="767.6 788.3 809.7">00Z</text>
</g>
<g id="footer" font-size="22.6" stroke="#fff" stroke-width="0.80">
<text transform="translate(327.3,876.3) scale(1.150,1)" textLength="90.2" lengthAdjust="spacing">Instituto</text>
<text transform="translate(445.9,876.3) scale(1.150,1)" textLength="152.6" lengthAdjust="spacing">Meteorologico</text>
<text transform="translate(635.3,876.3) scale(1.150,1)" textLength="94.8" lengthAdjust="spacing">Nacional</text>
<text transform="translate(759.2,876.3) scale(1.150,1)" textLength="61.0" lengthAdjust="spacing">Costa</text>
<text transform="translate(845.9,876.3) scale(1.150,1)" textLength="45.8" lengthAdjust="spacing">Rica</text>
</g>
</svg>
</body></html>
